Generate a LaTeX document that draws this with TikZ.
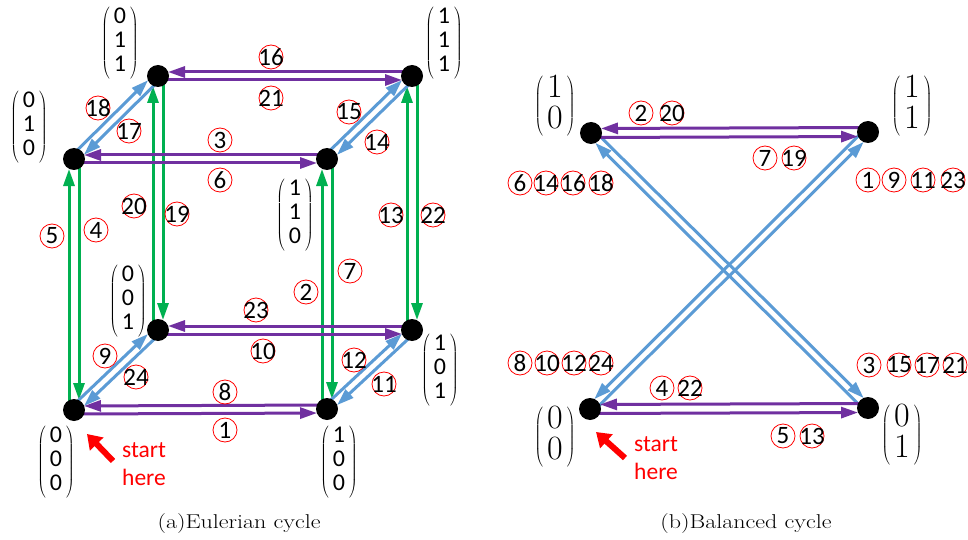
\documentclass[tikz,border=0pt]{standalone}
\usepackage{fontspec}
\newfontfamily\calib{Carlito}
\usetikzlibrary{arrows.meta,calc,backgrounds}
\definecolor{cpurple}{RGB}{112,48,160}
\definecolor{cgreen}{RGB}{0,176,80}
\definecolor{cblue}{RGB}{91,155,213}
\definecolor{cred}{RGB}{255,0,0}
\newcommand{\cn}[1]{\makebox[0pt]{#1}}
\newcommand{\vthree}[3]{$\left(\vcenter{\hbox{\begin{tabular}{@{\hspace{4pt}}c@{\hspace{4pt}}}#1\\#2\\#3\end{tabular}}}\right)$}
\newcommand{\vtwo}[2]{$\left(\vcenter{\hbox{\begin{tabular}{@{\hspace{4pt}}c@{\hspace{4pt}}}#1\\#2\end{tabular}}}\right)$}
\newcommand{\ledge}[4]{\draw[#1] ($(#2.center)!#4!90:(#3.center)$) -- ($(#3.center)!#4!-90:(#2.center)$);}
\newcommand{\redge}[4]{\draw[#1] ($(#2.center)!#4!-90:(#3.center)$) -- ($(#3.center)!#4!90:(#2.center)$);}
\tikzset{
  dot/.style={circle, fill=black, inner sep=0pt, minimum size=22pt},
  lbl/.style={circle, draw=cred, line width=0.8pt, minimum size=24pt, inner sep=0pt, font=\calib\fontsize{25}{28}\selectfont},
  vec/.style={inner sep=0pt, font=\calib\fontsize{24}{24}\selectfont},
  vecr/.style={inner sep=0pt, font=\rmfamily\fontsize{34}{28}\selectfont},
  edgeline/.style={line width=3pt, shorten >=10pt, -{Triangle[length=17pt,width=11pt]}},
  purp/.style={edgeline, draw=cpurple, fill=cpurple},
  grn/.style={edgeline, draw=cgreen, fill=cgreen},
  blu/.style={edgeline, draw=cblue, fill=cblue},
  startarr/.style={draw=cred, line width=6pt, -{Triangle[length=14pt,width=18pt]}},
  starttxt/.style={text=cred, align=left, anchor=west, inner sep=0pt, font=\calib\fontsize{23.5}{28}\selectfont},
  captxt/.style={inner sep=0pt, font=\fontsize{20}{22}\selectfont}
}
\begin{document}
\begin{tikzpicture}[x=1pt,y=-1pt]
\useasboundingbox (0,0) rectangle (968,540);
% cube nodes
\node[dot] (A) at (74,410) {};
\node[dot] (B) at (327,409) {};
\node[dot] (C) at (158,330) {};
\node[dot] (D) at (412,330) {};
\node[dot] (E) at (74,159) {};
\node[dot] (F) at (327,159) {};
\node[dot] (G) at (158,76) {};
\node[dot] (H) at (412,76) {};
% right nodes
\node[dot] (N10) at (591,133) {};
\node[dot] (N11) at (868,132) {};
\node[dot] (N00) at (590,409) {};
\node[dot] (N01) at (868,408) {};
\begin{scope}[on background layer]
\fill[white] (0,0) rectangle (968,540);
% green verticals
\ledge{grn}{A}{E}{5pt}
\ledge{grn}{E}{A}{5pt}
\ledge{grn}{C}{G}{5pt}
\ledge{grn}{G}{C}{5pt}
\ledge{grn}{B}{F}{5pt}
\ledge{grn}{F}{B}{5pt}
\ledge{grn}{D}{H}{5pt}
\ledge{grn}{H}{D}{5pt}
% blue diagonals
\ledge{blu}{A}{C}{4pt}
\ledge{blu}{C}{A}{4pt}
\ledge{blu}{B}{D}{4pt}
\ledge{blu}{D}{B}{4pt}
\ledge{blu}{E}{G}{4pt}
\ledge{blu}{G}{E}{4pt}
\ledge{blu}{F}{H}{4pt}
\ledge{blu}{H}{F}{4pt}
% purple horizontals
\redge{purp}{B}{A}{4pt}
\redge{purp}{A}{B}{4pt}
\redge{purp}{D}{C}{4pt}
\redge{purp}{C}{D}{4pt}
\redge{purp}{F}{E}{4pt}
\redge{purp}{E}{F}{4pt}
\redge{purp}{H}{G}{4pt}
\redge{purp}{G}{H}{4pt}
% right graph
\ledge{blu}{N10}{N01}{4pt}
\ledge{blu}{N01}{N10}{4pt}
\redge{blu}{N00}{N11}{4pt}
\redge{blu}{N11}{N00}{4pt}
\redge{purp}{N11}{N10}{4.5pt}
\redge{purp}{N10}{N11}{4.5pt}
\redge{purp}{N01}{N00}{4.5pt}
\redge{purp}{N00}{N01}{4.5pt}
\end{scope}
% vectors
\node[vec] (vA) at (56,462) {\vthree{0}{0}{0}};
\node[vec] (vB) at (339,462) {\vthree{1}{0}{0}};
\node[vec] (vC) at (128,301) {\vthree{0}{0}{1}};
\node[vec] (vD) at (440,370) {\vthree{1}{0}{1}};
\node[vec] (vE) at (29,127) {\vthree{0}{1}{0}};
\node[vec] (vF) at (295,215) {\vthree{1}{1}{0}};
\node[vec] (vG) at (120,43) {\vthree{0}{1}{1}};
\node[vec] (vH) at (444,43) {\vthree{1}{1}{1}};
\node[vecr] (v10) at (555,106) {\vtwo{1}{0}};
\node[vecr] (v11) at (912,106) {\vtwo{1}{1}};
\node[vecr] (v00) at (555,437) {\vtwo{0}{0}};
\node[vecr] (v01) at (902,435) {\vtwo{0}{1}};
% cube labels
\foreach \n/\x/\y in {1/225/430, 2/306/292, 3/220/140, 4/96/230, 5/52/236, 6/220/180,
  7/350/271, 8/225/392, 9/105/356, 10/263/351, 11/384/384, 12/354/360, 13/391/215,
  14/377/142, 15/349/112, 16/271/57, 17/129/131, 18/98/108, 19/177/214, 20/134/206,
  21/271/98, 22/433/215, 23/256/310, 24/136/377}
  \node[lbl] (l\n) at (\x,\y) {\cn{\n}};
% right labels
\foreach \n/\x/\y in {2/641/113, 20/672/113, 7/765/158, 19/794/158,
  6/520/183, 14/546/183, 16/573/183, 18/601/183,
  1/868/180, 9/894/180, 11/923/180, 23/953/180,
  8/520/363, 10/547/363, 12/574/363, 24/601/363,
  3/869/365, 15/899/365, 17/927/365, 21/955/365,
  4/662/388, 22/690/388, 5/783/436, 13/812/436}
  \node[lbl] (r\n) at (\x,\y) {\cn{\n}};
% start here
\coordinate (saT) at (113,461);
\coordinate (saH) at (87,434);
\draw[startarr] (saT) -- (saH);
\node[starttxt] (stA) at (122,464) {start\\here};
\coordinate (sbT) at (625,458);
\coordinate (sbH) at (596,432);
\draw[startarr] (sbT) -- (sbH);
\node[starttxt] (stB) at (634,458) {start\\here};
% captions
\node[captxt] (capa) at (239,524) {\scalebox{1.2}[1]{(a)Eulerian cycle}};
\node[captxt] (capb) at (746,524) {\scalebox{1.2}[1]{(b)Balanced cycle}};
\end{tikzpicture}
\end{document}
